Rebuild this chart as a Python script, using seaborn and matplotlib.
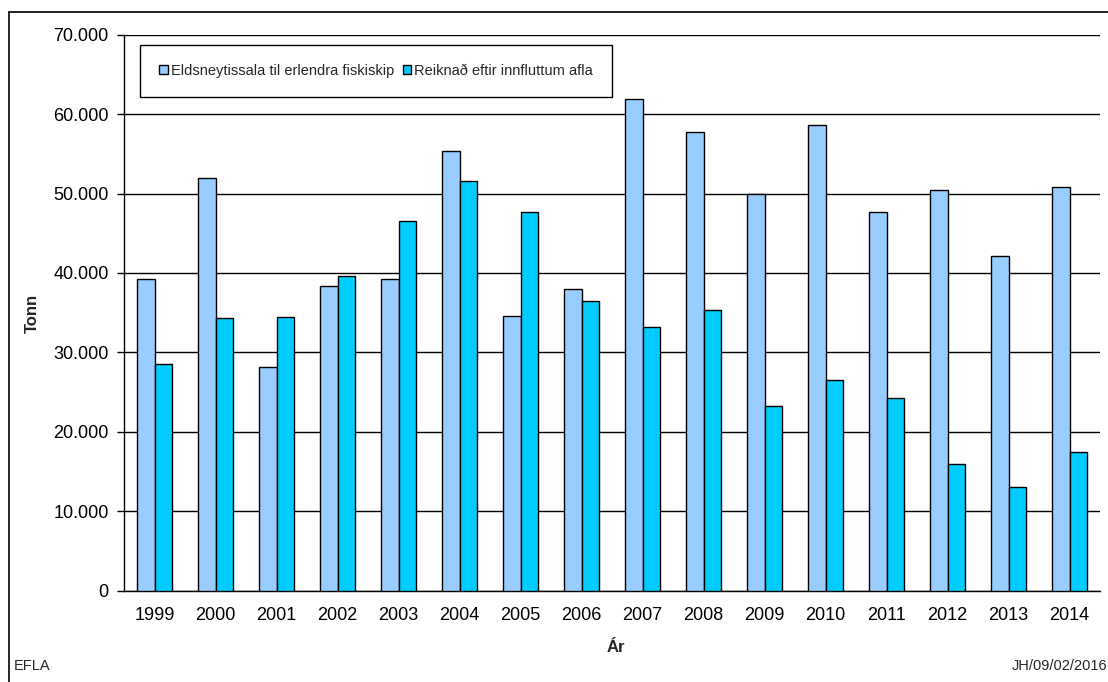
import matplotlib
matplotlib.use("Agg")
import matplotlib.pyplot as plt
from matplotlib.lines import Line2D
from matplotlib.ticker import FuncFormatter, MultipleLocator, FixedLocator
import seaborn as sns
import pandas as pd

# Ár (years)
years = ["1999", "2000", "2001", "2002", "2003", "2004", "2005", "2006",
         "2007", "2008", "2009", "2010", "2011", "2012", "2013", "2014"]

# Eldsneytissala til erlendra fiskiskip (tonn)
fuel_sales = [39300, 52000, 28200, 38400, 39300, 55300, 34600, 38000,
              61900, 57800, 50000, 58600, 47700, 50500, 42100, 50800]

# Reiknað eftir innfluttum afla (tonn)
from_imported_catch = [28500, 34300, 34400, 39600, 46500, 51600, 47700, 36500,
                       33200, 35300, 23300, 26500, 24200, 16000, 13100, 17400]

series_names = ["Eldsneytissala til erlendra fiskiskip",
                "Reiknað eftir innfluttum afla"]

df = pd.DataFrame({
    "Ár": years * 2,
    "Tonn": fuel_sales + from_imported_catch,
    "Röð": [series_names[0]] * len(years) + [series_names[1]] * len(years),
})

sns.set_theme(style="white")
plt.rcParams["font.family"] = ["Liberation Sans", "DejaVu Sans"]

W, H = 1108, 682
fig = plt.figure(figsize=(W / 100, H / 100), dpi=100)
ax = fig.add_axes([124 / W, 1 - 590.7 / H, (1100 - 124) / W, (590.7 - 34.7) / H])

palette = ["#99CCFF", "#00CCFF"]
sns.barplot(data=df, x="Ár", y="Tonn", hue="Röð", order=years,
            hue_order=series_names, palette=palette, width=0.57,
            edgecolor="black", linewidth=1.0, saturation=1, ax=ax,
            legend=False, zorder=3)

ax.set_xlim(-0.5, len(years) - 0.5)
ax.set_ylim(0, 70000)
ax.yaxis.set_major_locator(MultipleLocator(10000))
ax.yaxis.set_major_formatter(FuncFormatter(
    lambda v, p: "0" if v == 0 else f"{int(v):,}".replace(",", ".")))
ax.grid(axis="y", color="black", linewidth=1.0, zorder=0)
ax.set_axisbelow(True)

for side in ["top", "right"]:
    ax.spines[side].set_visible(False)
for side in ["left", "bottom"]:
    ax.spines[side].set_color("black")
    ax.spines[side].set_linewidth(1.0)

# Ticks between categories, labels centred under each group
ax.xaxis.set_minor_locator(FixedLocator([i - 0.5 for i in range(len(years) + 1)]))
ax.tick_params(axis="x", which="major", length=0, pad=12, labelsize=13, colors="black")
ax.tick_params(axis="x", which="minor", length=5, width=1, color="black", direction="out")
ax.tick_params(axis="y", which="major", length=5, width=1, color="black",
               direction="out", pad=6, labelsize=13, labelcolor="black", left=True)

ax.set_xlabel("")
ax.set_ylabel("")
fig.text(32 / W, 1 - 313 / H, "Tonn", rotation=90, fontsize=12, fontweight="bold",
         ha="center", va="center")
fig.text(616 / W, 1 - 648 / H, "Ár", fontsize=12, fontweight="bold",
         ha="center", va="center")
fig.text(14 / W, 1 - 666 / H, "EFLA", fontsize=10.5, ha="left", va="center")
fig.text(1107 / W, 1 - 666 / H, "JH/09/02/2016", fontsize=10.5, ha="right", va="center")

# Legend in a plain boxed strip
handles = [plt.Rectangle((0, 0), 1, 1, facecolor=c, edgecolor="black", linewidth=1.0)
           for c in palette]
leg = fig.legend(handles, series_names, loc="center", ncol=2,
                 bbox_to_anchor=(376 / W, 1 - 71 / H), fontsize=10.5,
                 frameon=True, fancybox=False, shadow=False,
                 handlelength=0.6, handleheight=0.6, handletextpad=0.2,
                 columnspacing=0.6, borderpad=1.3, borderaxespad=0)
leg.get_frame().set_edgecolor("black")
leg.get_frame().set_linewidth(1.0)
leg.get_frame().set_facecolor("white")
leg.get_frame().set_alpha(1)

# Outer chart border
fig.add_artist(Line2D([9 / W, 9 / W], [0, 1 - 12 / H], transform=fig.transFigure,
                      color="black", linewidth=1.2))
fig.add_artist(Line2D([9 / W, 1], [1 - 12 / H, 1 - 12 / H], transform=fig.transFigure,
                      color="black", linewidth=1.2))

fig.savefig("out.png", dpi=100, facecolor="white")
